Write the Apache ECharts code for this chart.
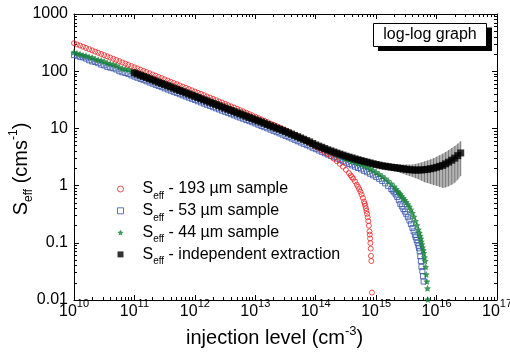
<!DOCTYPE html>
<html><head><meta charset="utf-8">
<script src="https://cdn.jsdelivr.net/npm/echarts@6/dist/echarts.min.js"></script>
<style>html,body{margin:0;padding:0;background:#fff}#c{width:510px;height:358px}</style>
</head><body><div id="c"></div>
<script>
// injection level grid (cm^-3)
const injection = [
 1e10,1.12e10,1.26e10,1.41e10,1.58e10,1.78e10,2e10,2.24e10,2.51e10,2.82e10,3.16e10,3.55e10,3.98e10,4.47e10,5.01e10,5.62e10,6.31e10,7.08e10,7.94e10,8.91e10,
 1e11,1.12e11,1.26e11,1.41e11,1.58e11,1.78e11,2e11,2.24e11,2.51e11,2.82e11,3.16e11,3.55e11,3.98e11,4.47e11,5.01e11,5.62e11,6.31e11,7.08e11,7.94e11,8.91e11,
 1e12,1.12e12,1.26e12,1.41e12,1.58e12,1.78e12,2e12,2.24e12,2.51e12,2.82e12,3.16e12,3.55e12,3.98e12,4.47e12,5.01e12,5.62e12,6.31e12,7.08e12,7.94e12,8.91e12,
 1e13,1.12e13,1.26e13,1.41e13,1.58e13,1.78e13,2e13,2.24e13,2.51e13,2.82e13,3.16e13,3.55e13,3.98e13,4.47e13,5.01e13,5.62e13,6.31e13,7.08e13,7.94e13,8.91e13,
 1e14,1.12e14,1.26e14,1.41e14,1.58e14,1.78e14,2e14,2.24e14,2.51e14,2.82e14,3.16e14,3.55e14,3.98e14,4.47e14,5.01e14,5.62e14,6.31e14,7.08e14,7.94e14,8.91e14,
 1e15,1.12e15,1.26e15,1.41e15,1.58e15,1.78e15,2e15,2.24e15,2.51e15,2.82e15,3.16e15,3.55e15,3.98e15,4.47e15,5.01e15,5.62e15,6.31e15,7.08e15,7.94e15,8.91e15,
 1e16,1.12e16,1.26e16,1.41e16,1.58e16,1.78e16,2e16,2.24e16,2.51e16
];
// Seff - 193 um sample (grid from 1e10)
const seff193 = [309,294,281,268,255,243,231,220,210,200,191,182,173,165,157,150,142,136,129,123,
 117,112,106,101,96.6,92.0,87.5,83.4,79.4,75.7,72.1,68.6,65.3,62.2,59.3,56.4,53.7,51.2,48.8,46.4,
 44.1,42.0,40.0,38.1,36.2,34.5,32.8,31.2,29.6,28.2,26.8,25.5,24.3,23.1,21.9,20.8,19.8,18.8,17.8,16.9,
 16.0,15.2,14.4,13.6,12.9,12.2,11.6,11.0,10.4,9.81,9.25,8.71,8.20,7.72,7.26,6.82,6.40,5.98,5.59,5.21,
 4.85,4.50,4.17,3.85,3.54,3.24,2.95,2.67,2.40,2.14,1.89];
const seff193Tail = [[3.55e14,1.65],[3.8e14,1.51],[3.98e14,1.41],[4.17e14,1.32],[4.47e14,1.18],[4.79e14,1.04],
 [5.01e14,0.955],[5.25e14,0.866],[5.5e14,0.78],[5.75e14,0.697],[6.03e14,0.61],[6.31e14,0.526],[6.46e14,0.485],
 [6.61e14,0.444],[6.76e14,0.402],[6.92e14,0.361],[7.08e14,0.321],[7.24e14,0.279],[7.41e14,0.239],[7.59e14,0.199],
 [7.76e14,0.158],[7.85e14,0.139],[7.94e14,0.119],[8.04e14,0.099],[8.13e14,0.079],[8.22e14,0.059],[8.32e14,0.048],
 [8.51e14,0.0135]];
// Seff - 53 um sample (grid from 1e10)
const seff53 = [191,186,178,174,166,155,148,145,138,130,126,119,115,112,107,100,95.5,93,89.1,84.3,
 80.4,76.7,73.1,69.7,66.5,63.4,60.5,57.7,55.1,52.6,50.1,47.8,45.6,43.5,41.5,39.6,37.8,36.1,34.4,32.8,
 31.3,29.8,28.4,27.1,25.9,24.7,23.5,22.4,21.4,20.4,19.5,18.6,17.7,16.9,16.1,15.4,14.7,14.0,13.4,12.8,
 12.2,11.6,11.0,10.5,10.0,9.52,9.06,8.61,8.18,7.77,7.38,7.01,6.65,6.31,5.98,5.67,5.38,5.10,4.83,4.58,
 4.34,4.11,3.89,3.68,3.49,3.30,3.13,2.96,2.81,2.66,2.52,2.39,2.26,2.14,2.03,1.92,1.81,1.71,1.61,1.51,
 1.41,1.31,1.20,1.09,0.977];
const seff53Tail = [[1.78e15,0.871],[1.88e15,0.815],[2e15,0.759],[2.11e15,0.70],[2.24e15,0.631],[2.37e15,0.555],
 [2.51e15,0.479],[2.66e15,0.432],[2.82e15,0.389],[2.99e15,0.351],[3.16e15,0.316],[3.35e15,0.28],[3.55e15,0.245],
 [3.76e15,0.212],[3.98e15,0.182],[4.17e15,0.158],[4.37e15,0.138],[4.52e15,0.125],[4.68e15,0.112],[4.84e15,0.10],
 [5.01e15,0.089],[5.13e15,0.080],[5.25e15,0.071],[5.37e15,0.058],[5.5e15,0.048],[5.62e15,0.038],[5.82e15,0.032],
 [5.96e15,0.026],[6.1e15,0.021]];
// Seff - 44 um sample (grid from 1e10)
const seff44 = [214,205,200,190,186,178,174,163,158,154,148,139,135,131,126,117,112,110,107,101,
 97.7,93.2,89.0,84.8,80.9,77.2,73.6,70.2,67.0,63.9,61.0,58.2,55.5,52.9,50.5,48.2,45.9,43.8,41.8,39.9,
 38.0,36.3,34.6,33.0,31.5,30.0,28.6,27.3,26.1,24.9,23.7,22.6,21.6,20.6,19.6,18.7,17.9,17.1,16.3,15.5,
 14.7,14.0,13.3,12.7,12.1,11.5,10.9,10.4,9.86,9.35,8.87,8.42,7.98,7.56,7.16,6.77,6.40,6.04,5.71,5.39,
 5.08,4.80,4.55,4.30,4.08,3.86,3.66,3.47,3.29,3.12,2.96,2.83,2.70,2.58,2.47,2.36,2.24,2.11,1.98,1.85,
 1.72,1.59,1.46,1.33,1.21,1.08,0.96];
const seff44Tail = [[2.14e15,0.87],[2.29e15,0.794],[2.4e15,0.75],[2.51e15,0.708],[2.66e15,0.655],[2.82e15,0.603],
 [2.99e15,0.558],[3.16e15,0.513],[3.35e15,0.47],[3.55e15,0.427],[3.76e15,0.38],[3.98e15,0.331],[4.22e15,0.285],
 [4.47e15,0.24],[4.73e15,0.203],[5.01e15,0.17],[5.19e15,0.15],[5.37e15,0.132],[5.5e15,0.118],[5.62e15,0.105],
 [5.75e15,0.094],[5.89e15,0.083],[6.03e15,0.074],[6.17e15,0.066],[6.31e15,0.056],[6.46e15,0.048],[6.61e15,0.038],
 [6.76e15,0.028],[6.92e15,0.021],[7.08e15,0.016],[7.16e15,0.0102]];
// Seff - independent extraction (grid from 1e11)
const seffIndep = [93.3,89.0,84.9,81.0,77.3,73.7,70.3,67.1,64.0,61.0,58.2,55.5,53.0,50.5,48.2,46.0,43.9,41.8,39.9,38.1,
 36.3,34.6,33.0,31.5,30.1,28.7,27.4,26.1,24.9,23.7,22.6,21.6,20.6,19.6,18.7,17.9,17.1,16.3,15.5,14.8,
 14.1,13.5,12.9,12.3,11.7,11.1,10.6,10.1,9.7,9.25,8.8,8.36,7.94,7.54,7.16,6.80,6.46,6.12,5.80,5.45,
 5.13,4.90,4.68,4.44,4.22,4.04,3.86,3.70,3.55,3.41,3.27,3.15,3.04,2.93,2.83,2.74,2.65,2.57,2.49,2.41,
 2.34,2.28,2.22,2.18,2.14,2.10,2.07,2.03,2.00,1.96,1.93,1.90,1.88,1.87,1.87,1.88,1.90,1.93,1.97,2.02,
 2.09,2.17,2.26,2.40,2.57,2.78,3.02,3.34,3.72];
// error of the independent extraction (grid from 1e14)
const seffIndepErr = [0.05,0.055,0.06,0.065,0.07,0.075,0.08,0.085,0.09,0.095,0.10,0.105,0.11,0.115,0.12,0.125,0.13,0.14,0.15,0.16,
 0.17,0.185,0.20,0.22,0.24,0.26,0.28,0.30,0.33,0.36,0.40,0.43,0.46,0.52,0.58,0.66,0.75,0.82,0.90,1.0,
 1.10,1.22,1.35,1.47,1.60,1.75,1.90,2.07,2.25];
const indepStart = 20, errStart = 80;
const seriesNames = ['Seff - 193 µm sample','Seff - 53 µm sample','Seff - 44 µm sample','Seff - independent extraction'];
const legendTexts = [' - 193 µm sample',' - 53 µm sample',' - 44 µm sample',' - independent extraction'];
const xTickExponents = ['10','11','12','13','14','15','16','17'];
const yTickLabels = ['0.01','0.1','1','10','100','1000'];

const FONT = '"Liberation Sans", Arial, sans-serif';
const RED = '#ee2626', BLUE = '#3552ad', GREEN = '#17823a';
const STAR = 'path://M0,-10L2.94,-4.05L9.51,-3.09L4.76,1.55L5.88,8.09L0,5L-5.88,8.09L-4.76,1.55L-9.51,-3.09L-2.94,-4.05Z';

function zip(xs, ys, off) { return ys.map((y, i) => [xs[i + off], y]); }
const redData = zip(injection, seff193, 0).concat(seff193Tail);
const blueData = zip(injection, seff53, 0).concat(seff53Tail);
const greenData = zip(injection, seff44, 0).concat(seff44Tail);
const blackData = zip(injection, seffIndep, indepStart);
const errData = seffIndepErr.map((e, i) => {
  const x = injection[errStart + i], y = seffIndep[errStart - indepStart + i];
  return [x, y - e, y + e];
});

const minorX = [], minorY = [];
for (let n = 10; n < 17; n++) for (let k = 2; k <= 9; k++) minorX.push(n + Math.log10(k));
for (let n = -2; n < 3; n++) for (let k = 2; k <= 9; k++) minorY.push(n + Math.log10(k));

const tickLine = {color: '#000', width: 1};
function decoAxis(pos, min, max, major, minorVals) {
  const a = {type: 'value', position: pos, min: min, max: max, silent: true,
    axisLine: {show: major, onZero: false, lineStyle: tickLine}, axisLabel: {show: false}, splitLine: {show: false},
    axisTick: {show: true, inside: true, length: major ? 5 : 3, lineStyle: tickLine}, axisPointer: {show: false}};
  if (major) a.interval = 1; else a.axisTick.customValues = minorVals;
  return a;
}

const chart = echarts.init(document.getElementById('c'));
chart.setOption({
  animation: false,
  backgroundColor: '#fff',
  grid: {left: 74, right: 13, top: 14, bottom: 58, containLabel: false, outerBoundsMode: 'none'},
  xAxis: [
    {type: 'log', logBase: 10, min: 1e10, max: 1e17, position: 'bottom',
     axisLine: {onZero: false, lineStyle: tickLine}, axisTick: {inside: true, length: 5, lineStyle: tickLine},
     splitLine: {show: false}, minorTick: {show: false},
     axisLabel: {margin: 4, showMinLabel: true, showMaxLabel: true, color: '#000',
       formatter: v => '{b|10}{s|' + xTickExponents[Math.round(Math.log10(v)) - 10] + '}',
       rich: {b: {fontSize: 16, fontFamily: FONT, color: '#000', lineHeight: 16},
              s: {fontSize: 11, fontFamily: FONT, color: '#000', lineHeight: 16, padding: [0, 0, 16, 0]}}}},
    decoAxis('bottom', 10, 17, false, minorX),
    decoAxis('top', 10, 17, true),
    decoAxis('top', 10, 17, false, minorX)
  ],
  yAxis: [
    {type: 'log', logBase: 10, min: 0.01, max: 1000, position: 'left',
     axisLine: {onZero: false, lineStyle: tickLine}, axisTick: {inside: true, length: 5, lineStyle: tickLine},
     splitLine: {show: false}, minorTick: {show: false},
     axisLabel: {margin: 6, showMinLabel: true, showMaxLabel: true, color: '#000', fontSize: 16, fontFamily: FONT,
       formatter: v => yTickLabels[Math.round(Math.log10(v)) + 2]}},
    decoAxis('left', -2, 3, false, minorY),
    decoAxis('right', -2, 3, true),
    decoAxis('right', -2, 3, false, minorY)
  ],
  legend: {
    orient: 'vertical', left: 117, top: 177, itemWidth: 6, itemHeight: 6, itemGap: -2.2,
    selectedMode: false, padding: 0,
    data: [
      {name: seriesNames[0], icon: 'circle', itemStyle: {color: 'rgba(0,0,0,0)', borderColor: RED, borderWidth: 1}},
      {name: seriesNames[1], icon: 'rect', itemStyle: {color: 'rgba(0,0,0,0)', borderColor: BLUE, borderWidth: 1}},
      {name: seriesNames[2], icon: STAR, itemStyle: {color: GREEN, borderWidth: 0}},
      {name: seriesNames[3], icon: 'rect', itemStyle: {color: '#000', borderWidth: 0}}
    ],
    formatter: name => '{s|S}{sub|eff}{t|' + legendTexts[seriesNames.indexOf(name)] + '}',
    textStyle: {color: '#000', fontFamily: FONT, fontSize: 16,
      rich: {s: {fontSize: 16, fontFamily: FONT, color: '#000', lineHeight: 16, padding: [0, 0, 0, 14]},
             sub: {fontSize: 10, fontFamily: FONT, color: '#000', lineHeight: 16, padding: [14, 0, 0, 0]},
             t: {fontSize: 16, fontFamily: FONT, color: '#000', lineHeight: 16}}}
  },
  series: [
    {name: seriesNames[1], type: 'scatter', data: blueData, symbol: 'rect', symbolSize: 5, z: 2,
     itemStyle: {color: 'rgba(0,0,0,0)', borderColor: BLUE, borderWidth: 1}, emphasis: {disabled: true}},
    {name: seriesNames[2], type: 'scatter', data: greenData, symbol: STAR, symbolSize: 7, z: 3,
     itemStyle: {color: GREEN, borderWidth: 0}, emphasis: {disabled: true}},
    {name: seriesNames[0], type: 'scatter', data: redData, symbol: 'circle', symbolSize: 5, z: 4,
     itemStyle: {color: 'rgba(0,0,0,0)', borderColor: RED, borderWidth: 1}, emphasis: {disabled: true}},
    {name: 'error', type: 'custom', data: errData, z: 5, silent: true, encode: {x: 0, y: [1, 2]},
     renderItem: function (params, api) {
       const i = params.dataIndex, cur = errData[i], nxt = errData[i + 1];
       const lo = api.coord([cur[0], cur[1]]), hi = api.coord([cur[0], cur[2]]);
       const children = [];
       if (nxt) {
         const lo2 = api.coord([nxt[0], nxt[1]]), hi2 = api.coord([nxt[0], nxt[2]]);
         children.push({type: 'polygon', shape: {points: [hi, hi2, lo2, lo]}, style: {fill: '#b2b2b2'}});
       }
       children.push({type: 'line', shape: {x1: lo[0], y1: lo[1], x2: hi[0], y2: hi[1]}, style: {stroke: '#7a7a7a', lineWidth: 1}});
       return {type: 'group', children: children};
     }},
    {name: seriesNames[3], type: 'scatter', data: blackData, symbol: 'rect', symbolSize: 7, z: 6,
     itemStyle: {color: '#000'}, emphasis: {disabled: true}}
  ],
  graphic: [
    {type: 'rect', shape: {x: 378, y: 27.5, width: 114, height: 23.5}, style: {fill: '#000'}, z: 10},
    {type: 'rect', shape: {x: 373.5, y: 23.5, width: 113, height: 23}, style: {fill: '#fff', stroke: '#000', lineWidth: 1}, z: 11},
    {type: 'text', x: 430, y: 35, z: 12, style: {text: 'log-log graph', font: '16px ' + FONT, fill: '#000', align: 'center', verticalAlign: 'middle'}},
    {type: 'text', x: 186, y: 338, z: 12, style: {text: '{a|injection level (cm}{p|-3}{a|)}', align: 'left', verticalAlign: 'middle',
      rich: {a: {fontSize: 20, fontFamily: FONT, fill: '#000', lineHeight: 20},
             p: {fontSize: 13, fontFamily: FONT, fill: '#000', lineHeight: 20, padding: [0, 0, 14, 0]}}}},
    {type: 'text', x: 21, y: 169, rotation: Math.PI / 2, z: 12, style: {text: '{a|S}{b|eff}{a| (cms}{p|-1}{a|)}', align: 'center', verticalAlign: 'middle',
      rich: {a: {fontSize: 20, fontFamily: FONT, fill: '#000', lineHeight: 20},
             b: {fontSize: 12, fontFamily: FONT, fill: '#000', lineHeight: 20, padding: [15, 0, 0, 0]},
             p: {fontSize: 12, fontFamily: FONT, fill: '#000', lineHeight: 20, padding: [0, 0, 14, 0]}}}}
  ]
});
</script></body></html>
